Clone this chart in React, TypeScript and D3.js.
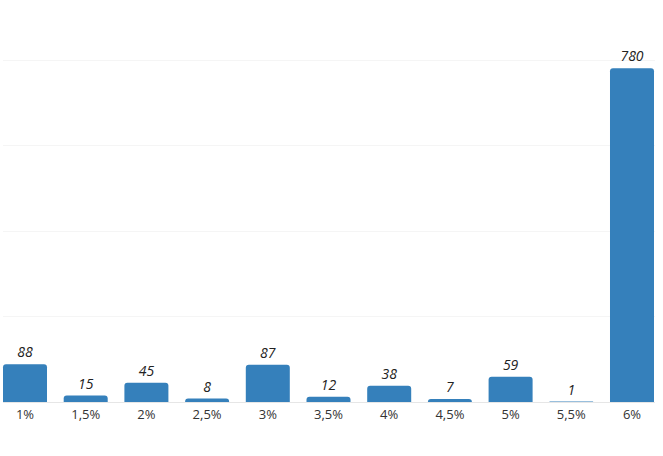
import React from "react";
import * as d3 from "d3";

const categories = ["1%", "1,5%", "2%", "2,5%", "3%", "3,5%", "4%", "4,5%", "5%", "5,5%", "6%"];
const values = [88, 15, 45, 8, 87, 12, 38, 7, 59, 1, 780];
const gridTicks = [0, 200, 400, 600, 800];

const W = 663;
const H = 456;

function topRoundedRect(x: number, y: number, w: number, h: number, r: number) {
  const rr = Math.min(r, h, w / 2);
  if (h <= 0) return "";
  return `M${x},${y + h}V${y + rr}Q${x},${y} ${x + rr},${y}H${x + w - rr}Q${x + w},${y} ${x + w},${y + rr}V${y + h}Z`;
}

export default function App() {
  const x = d3.scaleBand<string>().domain(categories).range([3, 654]).paddingInner(0.275).paddingOuter(0);
  const y = d3.scaleLinear().domain([0, 800]).range([402, 59.6]);
  const font = "'Open Sans', 'Noto Sans', sans-serif";
  return (
    <svg width={W} height={H} style={{ position: "absolute", left: 0, top: 0, background: "#fff" }}>
      {gridTicks.slice(1).map((t) => (
        <line key={t} x1={3} x2={655} y1={Math.round(y(t)) + 0.5} y2={Math.round(y(t)) + 0.5} stroke="#f5f5f5" strokeWidth={1} />
      ))}
      <line x1={3} x2={655} y1={402.5} y2={402.5} stroke="#e6e6e6" strokeWidth={1} />
      {categories.map((c, i) => {
        const bx = x(c)!;
        const bw = x.bandwidth();
        const top = y(values[i]);
        const h = 402 - top;
        return (
          <g key={c}>
            <path d={topRoundedRect(bx, top, bw, h, 3)} fill="#3580bb" />
            <text x={bx + bw / 2} y={top - 7} textAnchor="middle" fontFamily={font} fontSize={14} fontStyle="italic" fill="#222">
              {values[i]}
            </text>
            <text x={bx + bw / 2} y={419} textAnchor="middle" fontFamily={font} fontSize={13} fill="#333">
              {c}
            </text>
          </g>
        );
      })}
    </svg>
  );
}
